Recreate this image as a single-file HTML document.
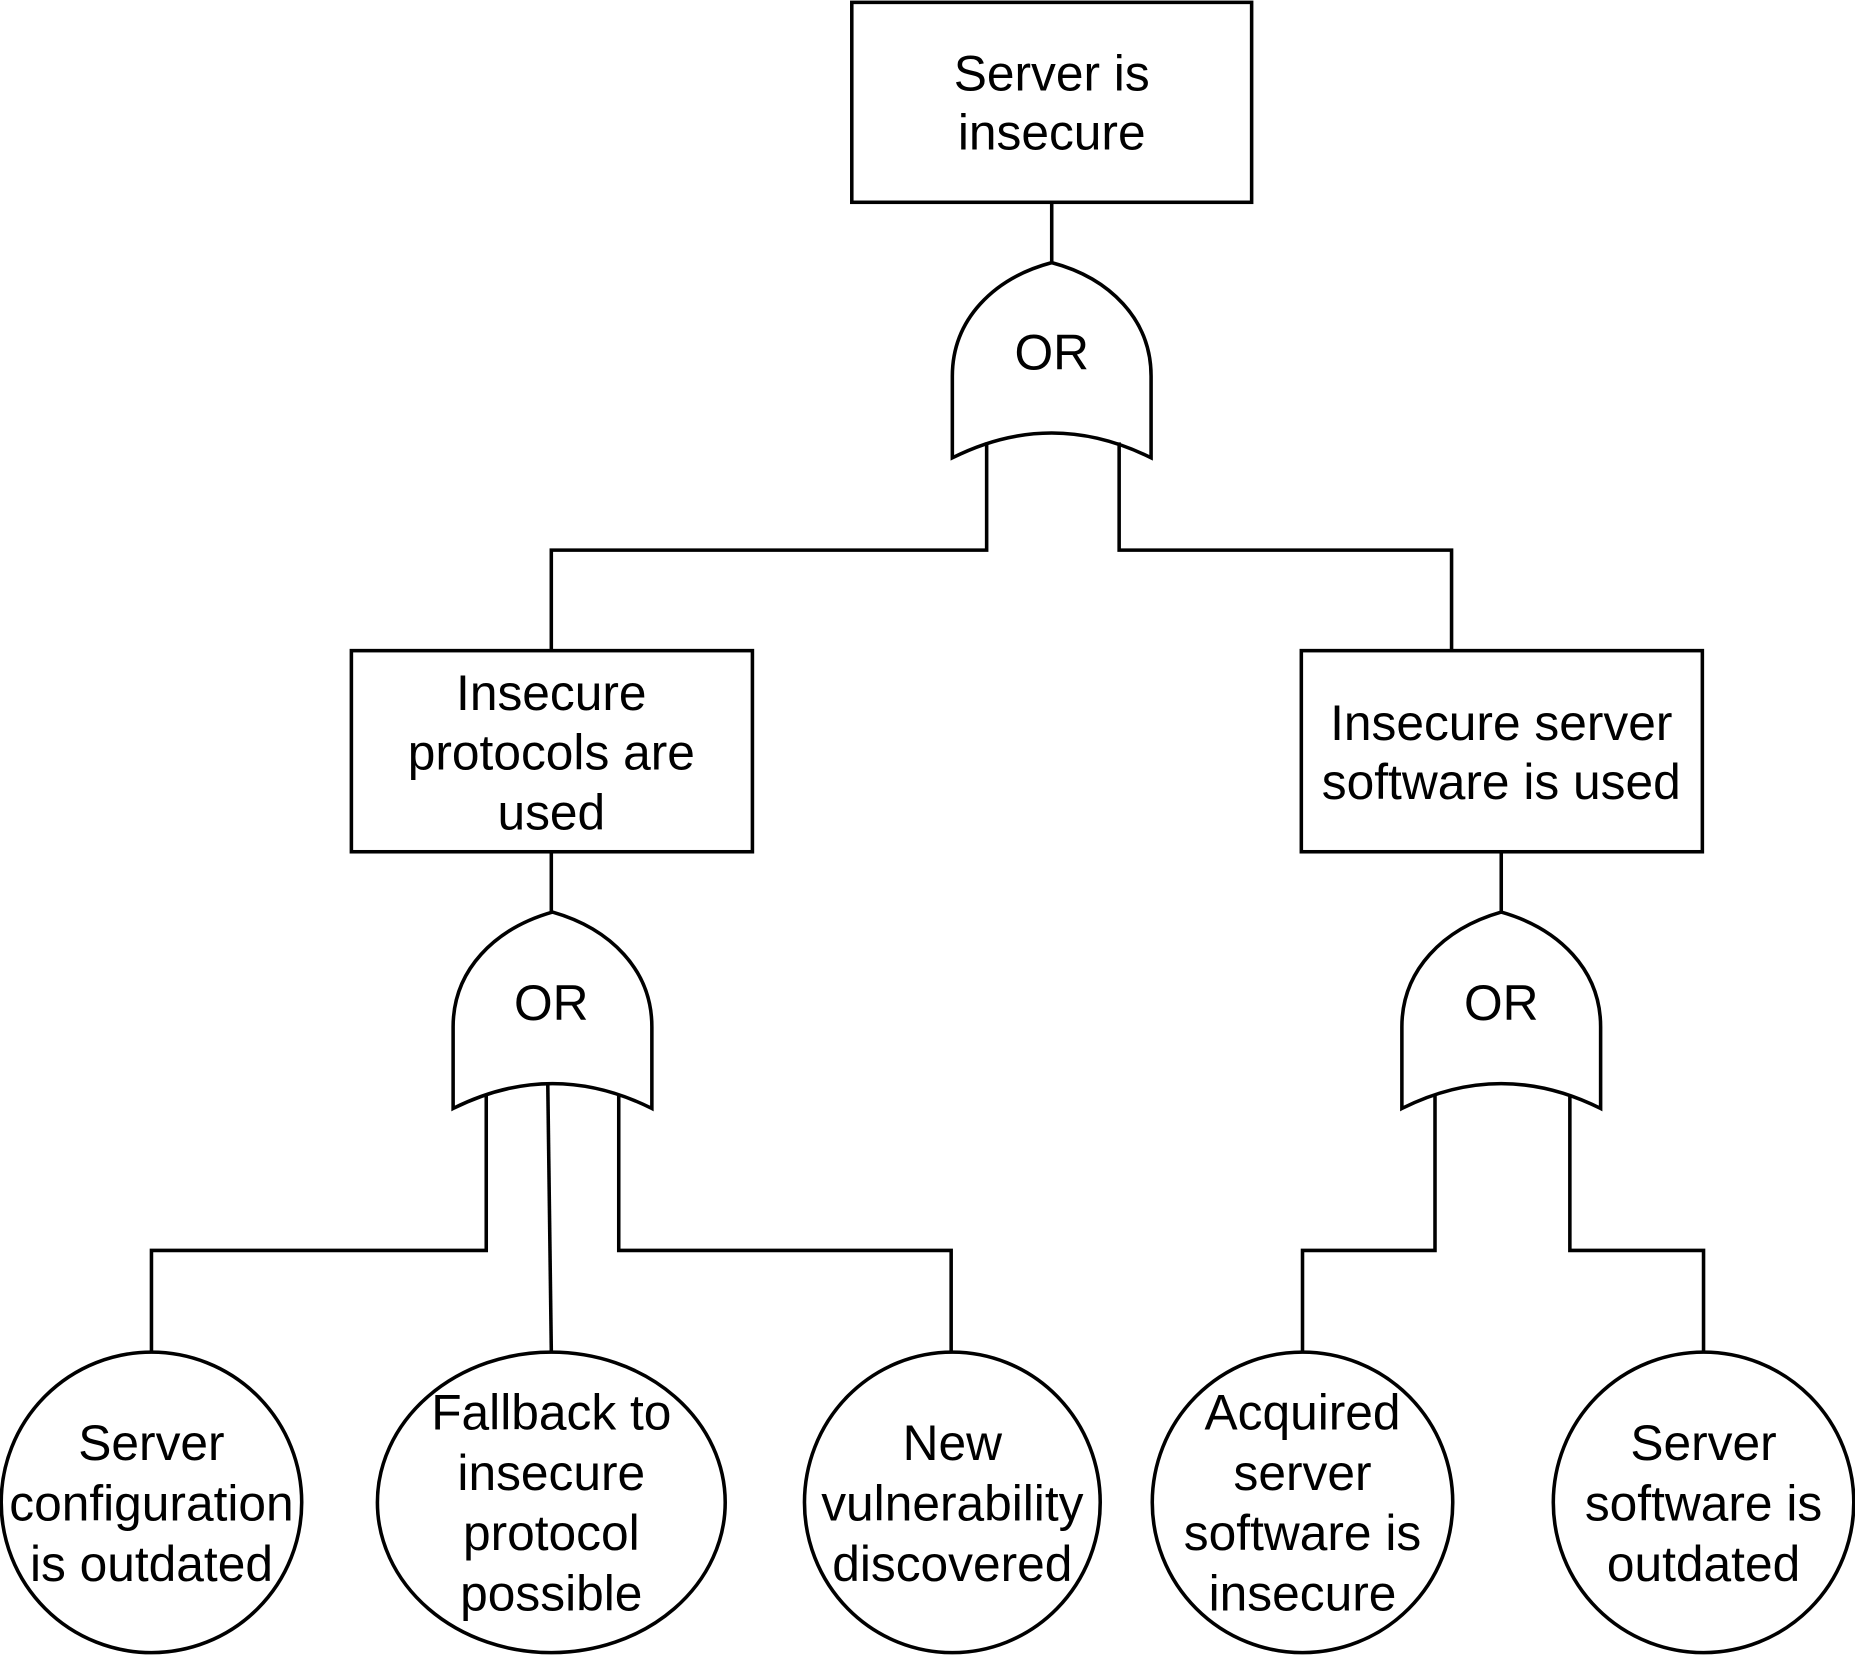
<!DOCTYPE html>
<html><head><meta charset="utf-8"><style>
html,body{margin:0;padding:0;background:#fff;}
svg{display:block;}
text{font-family:"Liberation Sans",sans-serif;font-size:42px;fill:#000;text-anchor:middle;dominant-baseline:central;}
</style></head><body>
<svg width="1855" height="1655" viewBox="0 0 1568 1399" xmlns="http://www.w3.org/2000/svg">
<g fill="none" stroke="#000" stroke-width="3">
<rect x="720" y="2" width="338" height="169" fill="#fff"/>
<rect x="297" y="550" width="339" height="170" fill="#fff"/>
<rect x="1100" y="550" width="339" height="170" fill="#fff"/>
<line x1="889" y1="171" x2="889" y2="222"/>
<line x1="466" y1="720" x2="466" y2="771"/>
<line x1="1269" y1="720" x2="1269" y2="771"/>
<path d="M805,387 L805,318 C805,270 840,235 889,222 C938,235 973,270 973,318 L973,387 Q889,345 805,387 Z"/>
<path d="M383,937 L383,868 C383,820 418,785 467,771 C516,785 551,820 551,868 L551,937 Q467,895 383,937 Z"/>
<path d="M1185,937 L1185,868 C1185,820 1220,785 1269,771 C1318,785 1353,820 1353,868 L1353,937 Q1269,895 1185,937 Z"/>
<polyline points="834,374 834,465 466,465 466,550"/>
<polyline points="946,374 946,465 1227,465 1227,550"/>
<polyline points="411,926 411,1057 128,1057 128,1142"/>
<polyline points="463,915 466,1142"/>
<polyline points="523,926 523,1057 804,1057 804,1142"/>
<polyline points="1213,926 1213,1057 1101,1057 1101,1142"/>
<polyline points="1327,926 1327,1057 1440,1057 1440,1142"/>
<ellipse cx="128" cy="1270" rx="127" ry="127"/>
<ellipse cx="466" cy="1270" rx="147" ry="127"/>
<ellipse cx="805" cy="1270" rx="125" ry="127"/>
<ellipse cx="1101" cy="1270" rx="127" ry="127"/>
<ellipse cx="1440" cy="1270" rx="127" ry="127"/>
</g>
<text x="889" y="62">Server is</text><text x="889" y="112">insecure</text>
<text x="889" y="298">OR</text>
<text x="466" y="848">OR</text>
<text x="1269" y="848">OR</text>
<text x="466" y="586">Insecure</text><text x="466" y="636">protocols are</text><text x="466" y="687">used</text>
<text x="1269" y="611">Insecure server</text><text x="1269" y="661">software is used</text>
<text x="128" y="1220">Server</text><text x="128" y="1271">configuration</text><text x="128" y="1322">is outdated</text>
<text x="466" y="1194">Fallback to</text><text x="466" y="1245">insecure</text><text x="466" y="1296">protocol</text><text x="466" y="1347">possible</text>
<text x="805" y="1220">New</text><text x="805" y="1271">vulnerability</text><text x="805" y="1322">discovered</text>
<text x="1101" y="1194">Acquired</text><text x="1101" y="1245">server</text><text x="1101" y="1296">software is</text><text x="1101" y="1347">insecure</text>
<text x="1440" y="1220">Server</text><text x="1440" y="1271">software is</text><text x="1440" y="1322">outdated</text>
</svg>
</body></html>
